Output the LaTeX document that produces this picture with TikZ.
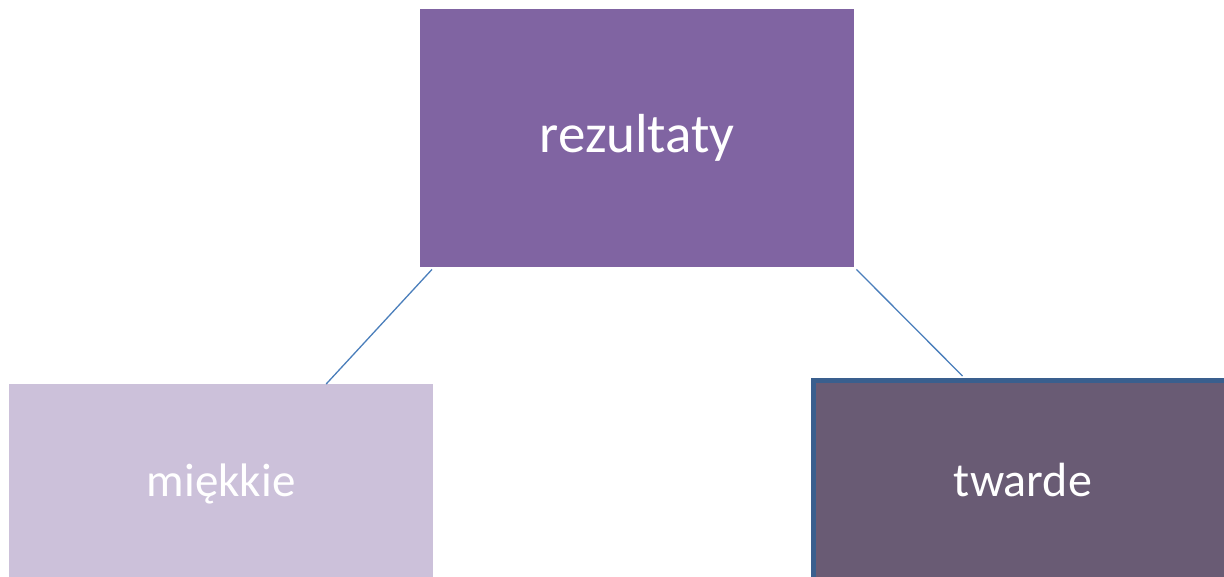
\documentclass[tikz,border=0pt]{standalone}
\usepackage{fontspec}
\setmainfont{Carlito}
\definecolor{topfill}{HTML}{8064A2}
\definecolor{softfill}{HTML}{CCC1DA}
\definecolor{hardfill}{HTML}{695B74}
\definecolor{hardline}{HTML}{3A5F8E}
\definecolor{conn}{HTML}{4A7EBB}
\begin{document}
\begin{tikzpicture}[x=1pt,y=1pt,
  box/.style={rectangle, inner sep=0pt, text=white, anchor=north west},
  link/.style={draw=conn, line width=1.3pt}]
\useasboundingbox (0,0) rectangle (1224,-576);
\begin{scope}
\clip (0,0) rectangle (1224,-576);
\node[box, fill=topfill, minimum width=434pt, minimum height=258pt, font=\fontsize{55}{60}\selectfont] (top) at (420,-9) {rezultaty};
\node[box, fill=softfill, minimum width=424pt, minimum height=200pt, font=\fontsize{47}{52}\selectfont] (soft) at (9,-384) {miękkie};
\node[box, fill=hardfill, draw=hardline, line width=5pt, minimum width=420pt, minimum height=200pt, font=\fontsize{48}{52}\selectfont] (hard) at (810.5,-377.5) {twarde};
\end{scope}
\draw[link] ([xshift=12pt,yshift=-2pt]top.south west) -- ([xshift=105pt]soft.north);
\draw[link] ([xshift=2pt,yshift=-2pt]top.south east) -- ([xshift=-60.5pt,yshift=1.5pt]hard.north);
\end{tikzpicture}
\end{document}
